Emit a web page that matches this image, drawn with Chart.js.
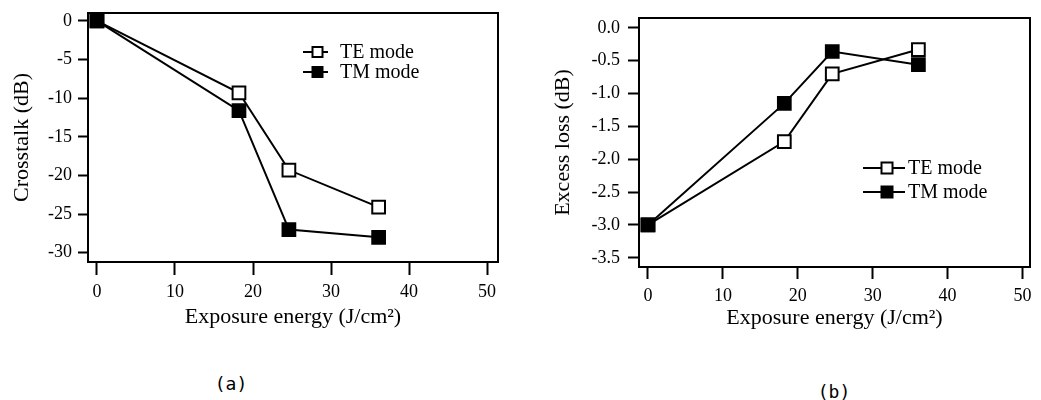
<!DOCTYPE html>
<html lang="en">
<head>
<meta charset="UTF-8">
<title>Crosstalk and excess loss vs exposure energy</title>
<script src="https://cdn.jsdelivr.net/npm/chart.js"></script>
<style>
  body { margin: 0; width: 1041px; height: 400px; background: #fff; position: relative; overflow: hidden; }
  .panel { position: absolute; top: 0; height: 340px; }
  #panelA { left: 0; width: 510px; }
  #panelB { left: 520px; width: 521px; }
  .tag { position: absolute; font: 18px "DejaVu Sans Mono", monospace; color: #000; transform: translate(-50%, -50%); }
</style>
</head>
<body>
<div class="panel" id="panelA"><canvas id="chartA"></canvas></div>
<div class="panel" id="panelB"><canvas id="chartB"></canvas></div>
<div class="tag" style="left:231px; top:383px;">(a)</div>
<div class="tag" style="left:834px; top:391px;">(b)</div>

<script>
// exposure energy (J/cm2), same for both modes
const exposure = [0, 18.2, 24.6, 36.1];

// (a) crosstalk in dB
const crosstalkTE = [0, -9.3, -19.3, -24.1];
const crosstalkTM = [0, -11.6, -27.0, -28.0];

// (b) excess loss in dB
const lossTE = [-3.0, -1.73, -0.70, -0.33];
const lossTM = [-3.0, -1.15, -0.36, -0.56];

const xTicks = [0, 10, 20, 30, 40, 50];
const modeNames = ['TE mode', 'TM mode'];

const serif = '"Liberation Serif", "Times New Roman", serif';

function points(xs, ys) {
    return xs.map((x, i) => ({ x: x, y: ys[i] }));
}

// box round the plot area
const framePlugin = {
    id: 'frame',
    beforeDatasetsDraw(chart) {
        const a = chart.chartArea;
        const ctx = chart.ctx;
        ctx.save();
        ctx.strokeStyle = '#000';
        ctx.lineWidth = 2;
        ctx.strokeRect(a.left, a.top, a.right - a.left, a.bottom - a.top);
        ctx.restore();
    }
};

// legend drawn inside the plot, like the original figure
const modeLegendPlugin = {
    id: 'modeLegend',
    afterDatasetsDraw(chart, args, opts) {
        const ctx = chart.ctx;
        ctx.save();
        ctx.font = '20px ' + serif;
        ctx.textBaseline = 'middle';
        ctx.fillStyle = '#000';
        modeNames.forEach((name, i) => {
            const y = opts.rows[i];
            ctx.strokeStyle = '#000';
            ctx.lineWidth = 2;
            ctx.beginPath();
            ctx.moveTo(opts.lineFrom, y);
            ctx.lineTo(opts.lineTo, y);
            ctx.stroke();
            const s = opts.box;
            ctx.fillStyle = i === 0 ? '#fff' : '#000';
            ctx.fillRect(opts.markX - s / 2, y - s / 2, s, s);
            ctx.strokeRect(opts.markX - s / 2, y - s / 2, s, s);
            ctx.fillStyle = '#000';
            ctx.fillText(name, opts.textX, y + 1);
        });
        ctx.restore();
    }
};

function makeChart(id, cfg) {
    const ds = (label, ys, fill, order) => ({
        label: label,
        data: points(exposure, ys),
        borderColor: '#000',
        borderWidth: 2,
        pointStyle: 'rect',
        pointRadius: 9,
        pointBackgroundColor: fill,
        pointBorderColor: '#000',
        pointBorderWidth: 2,
        tension: 0,
        clip: false,
        order: order
    });

    return new Chart(document.getElementById(id), {
        type: 'line',
        data: {
            datasets: [
                ds(modeNames[0], cfg.te, '#fff', 1),
                ds(modeNames[1], cfg.tm, '#000', 0)
            ]
        },
        options: {
            responsive: true,
            maintainAspectRatio: false,
            animation: false,
            layout: { padding: { top: cfg.top, right: cfg.right, left: 0, bottom: 0 } },
            plugins: {
                legend: { display: false },
                tooltip: { enabled: false },
                modeLegend: cfg.legend
            },
            scales: {
                x: {
                    type: 'linear',
                    min: cfg.xMin,
                    max: cfg.xMax,
                    afterBuildTicks: s => { s.ticks = xTicks.map(v => ({ value: v })); },
                    ticks: {
                        color: '#000',
                        font: { family: serif, size: 18 },
                        padding: 6,
                        maxRotation: 0,
                        autoSkip: false,
                        callback: v => String(v)
                    },
                    grid: { drawOnChartArea: false, tickLength: cfg.xTickLen, tickWidth: 2, tickColor: '#000' },
                    border: { display: false },
                    title: {
                        display: true,
                        text: 'Exposure energy (J/cm²)',
                        color: '#000',
                        font: { family: serif, size: 22 },
                        padding: { top: 0, bottom: cfg.xTitlePad }
                    },
                    afterFit: s => {
                        s.height = cfg.xHeight;
                        s.paddingLeft = 0;
                        s.paddingRight = 0;
                    }
                },
                y: {
                    type: 'linear',
                    min: cfg.yMin,
                    max: cfg.yMax,
                    afterBuildTicks: s => { s.ticks = cfg.yTicks.map(v => ({ value: v })); },
                    ticks: {
                        color: '#000',
                        font: { family: serif, size: 18 },
                        padding: cfg.yTickPad,
                        callback: cfg.yFormat
                    },
                    grid: { drawOnChartArea: false, tickLength: cfg.yTickLen, tickWidth: 2, tickColor: '#000' },
                    border: { display: false },
                    title: {
                        display: true,
                        text: cfg.yTitle,
                        color: '#000',
                        font: { family: serif, size: 22 },
                        padding: { top: cfg.yTitlePad, bottom: 0 }
                    },
                    afterFit: s => {
                        s.width = cfg.yWidth;
                        s.paddingTop = 0;
                        s.paddingBottom = 0;
                    }
                }
            }
        },
        plugins: [framePlugin, modeLegendPlugin]
    });
}

makeChart('chartA', {
    te: crosstalkTE,
    tm: crosstalkTM,
    xMin: -1.15, xMax: 51.4,
    yMin: -31.2, yMax: 1.03,
    yTicks: [-30, -25, -20, -15, -10, -5, 0],
    yFormat: v => String(v),
    yTitle: 'Crosstalk (dB)',
    top: 13, right: 12,
    yWidth: 88, yTickLen: 10, yTickPad: 6, yTitlePad: 9,
    xHeight: 78, xTickLen: 13, xTitlePad: 10,
    legend: { rows: [52, 72], lineFrom: 303, lineTo: 328, markX: 317.5, box: 10, textX: 340 }
});

makeChart('chartB', {
    te: lossTE,
    tm: lossTM,
    xMin: -1.2, xMax: 51.0,
    yMin: -3.64, yMax: 0.15,
    yTicks: [-3.5, -3.0, -2.5, -2.0, -1.5, -1.0, -0.5, 0],
    yFormat: v => Number(v).toFixed(1),
    yTitle: 'Excess loss (dB)',
    top: 18, right: 1,
    yWidth: 119, yTickLen: 11, yTickPad: 8, yTitlePad: 30,
    xHeight: 73, xTickLen: 12, xTitlePad: 9,
    legend: { rows: [168, 192], lineFrom: 343, lineTo: 385, markX: 367, box: 11, textX: 388 }
});
</script>
</body>
</html>
